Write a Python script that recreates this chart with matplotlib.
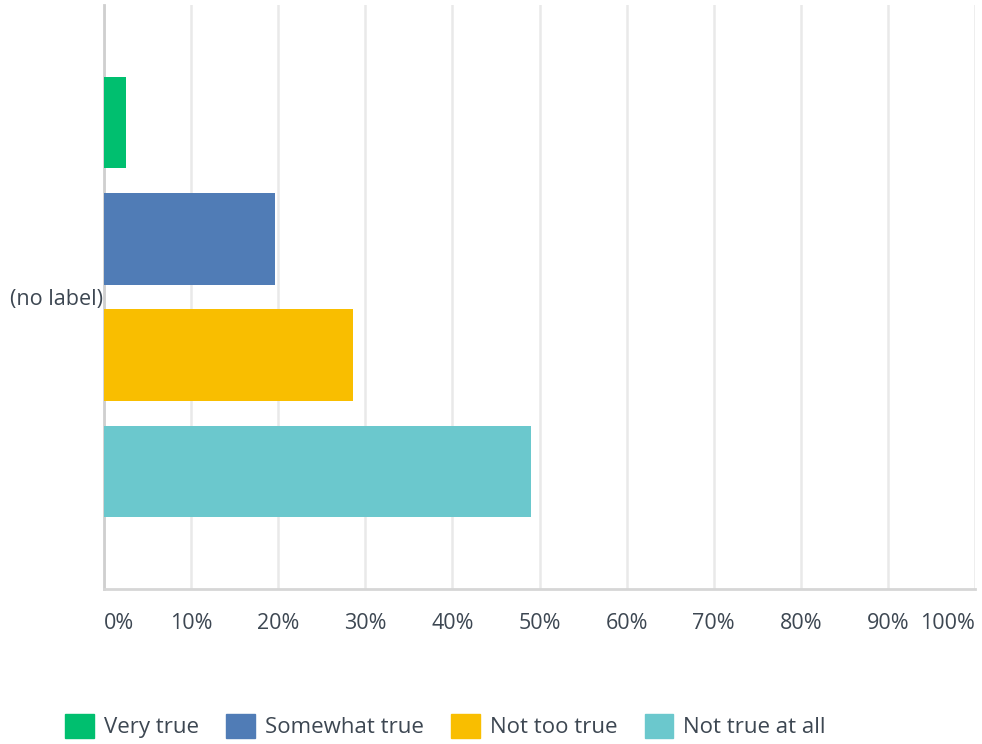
import matplotlib.pyplot as plt
from matplotlib.patches import Patch

# survey answers, share of respondents (%)
answers = ['Very true', 'Somewhat true', 'Not too true', 'Not true at all']
shares = [2.5, 19.6, 28.6, 49.0]
colors = ['#00bf6f', '#507cb6', '#f9be00', '#6bc8cd']
xticks = list(range(0, 101, 10))
xlabels = ['%d%%' % t for t in xticks]

plt.rcParams['font.family'] = ['Open Sans', 'DejaVu Sans']
text_color = '#3d4752'

fig = plt.figure(figsize=(9.82, 7.44), dpi=100)
ax = fig.add_axes([0.1059, 0.2083, 0.8870, 0.7850])

pos = list(range(len(answers)))
ax.barh(pos, shares, height=0.785, color=colors, zorder=3)

ax.set_xlim(0, 100)
ax.set_ylim(3 + 1.015, -1.015)
ax.set_xticks(xticks)
ax.set_xticklabels(xlabels, fontsize=15.5, color=text_color)
ax.set_yticks([1.5])
ax.set_yticklabels(['(no label)'], fontsize=15.5, color=text_color)
ax.tick_params(axis='both', length=0)
ax.tick_params(axis='x', pad=17)
ax.tick_params(axis='y', pad=1)

# first label left aligned, last right aligned, like the original
labels = ax.get_xticklabels()
labels[0].set_ha('left')
labels[-1].set_ha('right')

ax.grid(axis='x', color='#e9e9e9', linewidth=1.8, zorder=0)
for side in ['top', 'right']:
    ax.spines[side].set_visible(False)
ax.spines['left'].set_color('#cfcfcf')
ax.spines['left'].set_linewidth(2)
ax.spines['bottom'].set_color('#d6d6d6')
ax.spines['bottom'].set_linewidth(2)

handles = [Patch(facecolor=c, edgecolor=c, label=a) for a, c in zip(answers, colors)]
leg = fig.legend(handles=handles, loc='center', bbox_to_anchor=(0.4537, 0.024), ncol=4,
                 frameon=False, fontsize=16, handlelength=1.27, handleheight=1.3,
                 handletextpad=0.45, columnspacing=1.25, labelcolor=text_color)

fig.savefig('out.png', dpi=100)
